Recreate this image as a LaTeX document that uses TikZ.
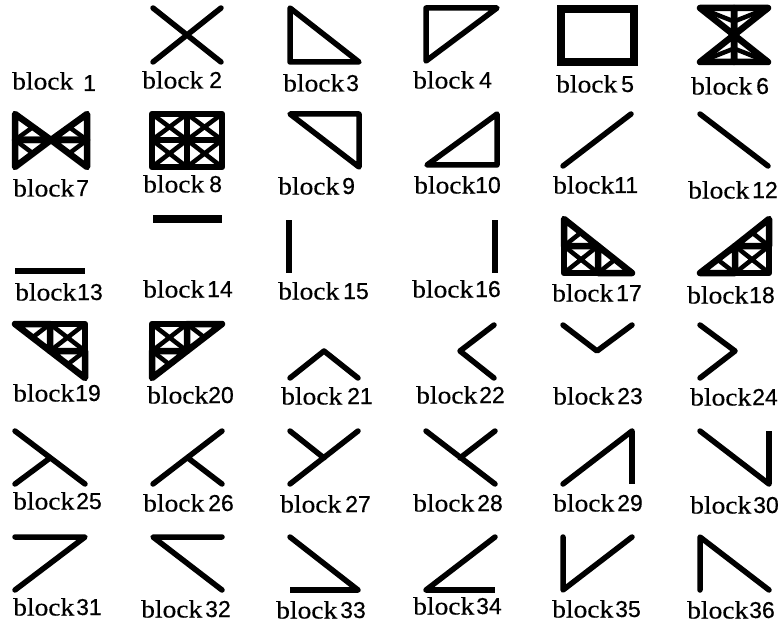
\documentclass[tikz,border=0pt]{standalone}
\usepackage{fontspec}
\newfontfamily\wordfont[FakeBold=0.35]{Liberation Serif}
\newfontfamily\numfont[FakeBold=0.5]{Liberation Sans}
\usetikzlibrary{calc}
\tikzset{
  glyph/.style={line width=5.5pt,line join=round,line cap=round,draw=black},
  thick glyph/.style={glyph,line width=7.5pt,line cap=butt,line join=miter},
  truss/.style={line width=6.5pt,line join=round,line cap=round,draw=black},
  word/.style={anchor=base west,inner sep=0pt,font=\wordfont\fontsize{25}{25}\selectfont,xscale=1.1,transform shape,yshift=-1.5pt},
  num/.style={anchor=base west,inner sep=0pt,font=\numfont\fontsize{23}{23}\selectfont,yshift=-1pt}
}
% right-angled braced triangle: corners A, right angle B, C
\newcommand{\bracedtri}[3]{\draw[truss] #1 -- #2 -- #3 -- cycle; \draw[truss,line width=4.5pt] #2 -- ($#1!0.5!#3$);}
% cross-braced cell
\newcommand{\xcell}[4]{\draw[truss] (#1,#2) rectangle (#3,#4); \draw[truss,line width=4.5pt] (#1,#2) -- (#3,#4) (#1,#4) -- (#3,#2);}
\newcommand{\lab}[5]{\node[word] (w#5) at (#1,#2) {block}; \node[num] (n#5) at (#3,#4) {#5};}
\begin{document}
\begin{tikzpicture}[x=1pt,y=-1pt]
\useasboundingbox (0,0) rectangle (782,623);
\fill[white] (0,0) rectangle (782,623);
% labels
\lab{12}{88}{83}{90}{1}
\lab{142}{87}{209}{87}{2}
\lab{283}{90}{346}{90}{3}
\lab{413}{87}{479}{87}{4}
\lab{556}{91}{621}{91}{5}
\lab{691}{93}{756}{93}{6}
\lab{13}{195}{76}{195}{7}
\lab{143}{191}{209}{191}{8}
\lab{278}{193}{342}{193}{9}
\lab{414}{192}{475}{192}{10}
\lab{553}{192}{614}{192}{11}
\lab{688}{197}{752}{197}{12}
\lab{15}{299}{77}{299}{13}
\lab{143}{296}{207}{296}{14}
\lab{278}{298}{343}{298}{15}
\lab{412}{296}{475}{296}{16}
\lab{552}{300}{616}{300}{17}
\lab{687}{302}{749}{302}{18}
\lab{13}{400}{75}{400}{19}
\lab{147}{402}{208}{402}{20}
\lab{281}{403}{347}{403}{21}
\lab{416}{402}{479}{402}{22}
\lab{553}{403}{617}{403}{23}
\lab{690}{404}{752}{404}{24}
\lab{13}{508}{76}{508}{25}
\lab{143}{510}{208}{510}{26}
\lab{280}{511}{345}{511}{27}
\lab{413}{510}{477}{510}{28}
\lab{553}{510}{617}{510}{29}
\lab{690}{512}{753}{512}{30}
\lab{13}{614}{76}{614}{31}
\lab{141}{616}{205}{616}{32}
\lab{276}{617}{340}{617}{33}
\lab{413}{613}{476}{613}{34}
\lab{552}{616}{615}{616}{35}
\lab{687}{617}{749}{617}{36}
% row 1
\draw[glyph] (153,8) -- (221,62) (153,62) -- (221,8);
\draw[glyph] (290,8) -- (290,62) -- (359,62) -- cycle;
\draw[glyph] (426,8) -- (497,8) -- (426,61) -- cycle;
\draw[thick glyph] (561,9) rectangle (634,62);
\bracedtri{(734,8)}{(700,8)}{(734,35)}
\bracedtri{(734,8)}{(768,8)}{(734,35)}
\bracedtri{(734,62)}{(700,62)}{(734,35)}
\bracedtri{(734,62)}{(768,62)}{(734,35)}
% row 2
\bracedtri{(15,114)}{(15,140)}{(51,140)}
\bracedtri{(15,167)}{(15,140)}{(51,140)}
\bracedtri{(87,114)}{(87,140)}{(51,140)}
\bracedtri{(87,167)}{(87,140)}{(51,140)}
\xcell{152}{114}{187}{140}
\xcell{187}{114}{222}{140}
\xcell{152}{140}{187}{167}
\xcell{187}{140}{222}{167}
\draw[glyph] (290,114) -- (359,114) -- (359,167) -- cycle;
\draw[glyph] (427,165) -- (497,114) -- (497,165) -- cycle;
\draw[glyph] (563,166) -- (631,114);
\draw[glyph] (700,114) -- (768,166);
% row 3
\draw[thick glyph,line width=5.5pt] (15,271) -- (85,271);
\draw[thick glyph] (153,219) -- (222,219);
\draw[thick glyph,line width=6pt] (289,220) -- (289,273);
\draw[thick glyph,line width=6pt] (495,220) -- (495,273);
\xcell{564}{246}{598}{273}
\bracedtri{(564,219)}{(564,246)}{(598,246)}
\bracedtri{(598,246)}{(598,273)}{(632,273)}
\xcell{735}{246}{769}{273}
\bracedtri{(769,219)}{(769,246)}{(735,246)}
\bracedtri{(735,246)}{(735,273)}{(700,273)}
% row 4
\xcell{50}{324}{85}{351}
\bracedtri{(15,324)}{(50,324)}{(50,351)}
\bracedtri{(50,351)}{(85,351)}{(85,378)}
\xcell{152}{324}{187}{351}
\bracedtri{(222,324)}{(187,324)}{(187,351)}
\bracedtri{(187,351)}{(152,351)}{(152,378)}
\draw[glyph] (290,378) -- (324,351) -- (358,378);
\draw[glyph] (494,325) -- (460,351) -- (494,378);
\draw[glyph] (563,325) -- (597,351) -- (632,325);
\draw[glyph] (700,325) -- (735,351) -- (700,378);
% row 5
\draw[glyph] (15,431) -- (85,484) (15,484) -- (50,458);
\draw[glyph] (153,484) -- (222,431) (188,458) -- (222,484);
\draw[glyph] (290,484) -- (358,431) (290,431) -- (324,458);
\draw[glyph] (426,431) -- (495,484) (460,458) -- (495,431);
\draw[glyph] (563,484) -- (632,431);
\draw[thick glyph,line width=6.5pt] (632,431) -- (632,484);
\draw[glyph] (700,431) -- (769,484);
\draw[thick glyph,line width=6.5pt] (769,431) -- (769,484);
% row 6
\draw[glyph] (15,537) -- (85,537) -- (15,590);
\draw[glyph] (222,537) -- (153,537) -- (222,590);
\draw[glyph] (290,537) -- (358,590);
\draw[thick glyph,line width=6.5pt] (290,590) -- (358,590);
\draw[glyph] (495,537) -- (426,590);
\draw[thick glyph,line width=6.5pt] (426,590) -- (495,590);
\draw[glyph] (563,537) -- (563,590) -- (632,537);
\draw[glyph] (700,590) -- (700,537) -- (769,590);
\end{tikzpicture}
\end{document}
